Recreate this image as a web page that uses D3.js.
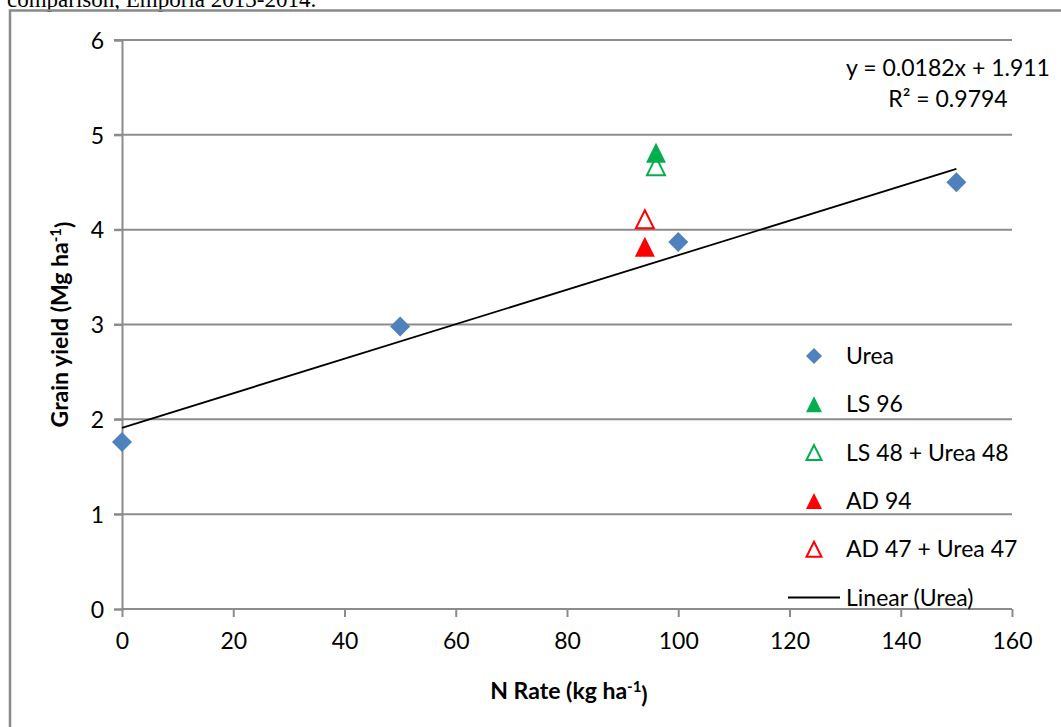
<!DOCTYPE html>
<html>
<head>
<meta charset="utf-8">
<script src="https://cdn.jsdelivr.net/npm/d3@7"></script>
<style>
  html, body { margin: 0; padding: 0; background: #fff; }
  svg { display: block; }
  text { font-family: Lato, "Open Sans", "Liberation Sans", sans-serif; fill: #000; }
</style>
</head>
<body>
<svg id="chart" width="1061" height="727"></svg>
<script>
// N rate (kg/ha) and grain yield (Mg/ha) for each nitrogen source
const ureaRates   = [0, 50, 100, 150];
const ureaYields  = [1.76, 2.98, 3.87, 4.50];
const ls96        = [[96, 4.81]];
const ls48Urea48  = [[96, 4.67]];
const ad94        = [[94, 3.82]];
const ad47Urea47  = [[94, 4.11]];

// Linear fit on the urea series
const fitSlope = 0.0182;
const fitIntercept = 1.911;
const fitRange = [0, 150];
const equationLines = ["y = 0.0182x + 1.911", "R² = 0.9794"];

const xTicks = [0, 20, 40, 60, 80, 100, 120, 140, 160];
const yTicks = [0, 1, 2, 3, 4, 5, 6];

const legendLabels = ["Urea", "LS 96", "LS 48 + Urea 48", "AD 94", "AD 47 + Urea 47", "Linear (Urea)"];

const BLUE = "#4f81bd", GREEN = "#00b050", RED = "#ff0000", GRID = "#8c8c8c";

const svg = d3.select("#chart");

// caption line running above the chart frame
svg.append("text")
  .attr("x", 7).attr("y", 7)
  .style("font-family", "'Liberation Serif', 'Times New Roman', serif")
  .style("font-size", "23px")
  .text("comparison, Emporia 2013-2014.");

// chart frame
svg.append("rect")
  .attr("x", 10).attr("y", 10.5)
  .attr("width", 1080).attr("height", 760)
  .attr("fill", "none").attr("stroke", "#8a8a8a").attr("stroke-width", 2.5);

const x = d3.scaleLinear().domain([0, 160]).range([122, 1012]);
const y = d3.scaleLinear().domain([0, 6]).range([609, 40]);

// horizontal gridlines
svg.append("g").selectAll("line").data(yTicks.filter(d => d > 0)).join("line")
  .attr("x1", x(0) - 8).attr("x2", x(160))
  .attr("y1", d => y(d)).attr("y2", d => y(d))
  .attr("stroke", GRID).attr("stroke-width", 2);

// y axis
const yAxis = svg.append("g").attr("transform", `translate(${x(0)},0)`)
  .call(d3.axisLeft(y).tickValues(yTicks).tickSize(8).tickPadding(10).tickFormat(d3.format("d")));
yAxis.select(".domain").attr("stroke", GRID).attr("stroke-width", 2);
yAxis.selectAll(".tick line").attr("stroke", GRID).attr("stroke-width", 2);
yAxis.selectAll(".tick text").style("font-size", "23px").style("font-family", "Lato, sans-serif").attr("dy", "0.36em");

// x axis
const xAxis = svg.append("g").attr("transform", `translate(0,${y(0)})`)
  .call(d3.axisBottom(x).tickValues(xTicks).tickSize(8).tickPadding(16).tickFormat(d3.format("d")));
xAxis.select(".domain").attr("stroke", GRID).attr("stroke-width", 2).attr("d", `M${x(0)},0H${x(160)}`);
xAxis.selectAll(".tick line").attr("stroke", GRID).attr("stroke-width", 2);
xAxis.selectAll(".tick text").style("font-size", "23px").style("font-family", "Lato, sans-serif");

// axis titles
const yTitle = svg.append("text")
  .attr("transform", `translate(68,${(y(0) + y(6)) / 2}) rotate(-90)`)
  .attr("text-anchor", "middle")
  .style("font-size", "23px").style("font-weight", "bold");
yTitle.append("tspan").text("Grain yield (Mg ha");
yTitle.append("tspan").attr("dy", "-0.45em").style("font-size", "15px").text("-1");
yTitle.append("tspan").attr("dy", "0.45em").text(")");

const xTitle = svg.append("text")
  .attr("x", (x(0) + x(160)) / 2 + 2).attr("y", 699)
  .attr("text-anchor", "middle")
  .style("font-size", "23px").style("font-weight", "bold");
xTitle.append("tspan").text("N Rate (kg ha");
xTitle.append("tspan").attr("dy", "-0.45em").style("font-size", "15px").text("-1");
xTitle.append("tspan").attr("dy", "0.45em").text(")");

// marker shapes: square-on-corner diamond and a triangle of equal width and height
const diamond = {
  draw(ctx, size) {
    const r = Math.sqrt(size) / 2;
    ctx.moveTo(0, -r); ctx.lineTo(r, 0); ctx.lineTo(0, r); ctx.lineTo(-r, 0); ctx.closePath();
  }
};
const triangle = {
  draw(ctx, size) {
    const r = Math.sqrt(size) / 2;
    ctx.moveTo(0, -r); ctx.lineTo(r, r); ctx.lineTo(-r, r); ctx.closePath();
  }
};

// linear trend line
const fit = d => fitSlope * d + fitIntercept;
svg.append("line")
  .attr("x1", x(fitRange[0])).attr("y1", y(fit(fitRange[0])))
  .attr("x2", x(fitRange[1])).attr("y2", y(fit(fitRange[1])))
  .attr("stroke", "#000").attr("stroke-width", 1.8);

// data points
const urea = ureaRates.map((r, i) => [r, ureaYields[i]]);
const series = [
  { data: urea,       shape: diamond,  size: 400, fill: BLUE,  stroke: "none" },
  { data: ls48Urea48, shape: triangle, size: 324, fill: "#fff", stroke: GREEN },
  { data: ls96,       shape: triangle, size: 400, fill: GREEN, stroke: "none" },
  { data: ad94,       shape: triangle, size: 400, fill: RED,   stroke: "none" },
  { data: ad47Urea47, shape: triangle, size: 324, fill: "#fff", stroke: RED }
];
series.forEach(s => {
  svg.append("g").selectAll("path").data(s.data).join("path")
    .attr("transform", d => `translate(${x(d[0])},${y(d[1])})`)
    .attr("d", d3.symbol().type(s.shape).size(s.size))
    .attr("fill", s.fill).attr("stroke", s.stroke).attr("stroke-width", 2);
});

// regression equation
const eq = svg.append("text").attr("text-anchor", "middle").style("font-size", "23px");
equationLines.forEach((t, i) => {
  eq.append("tspan").attr("x", 948).attr("y", 76 + i * 31).text(t);
});

// legend
const legendMarks = [
  { shape: diamond,  size: 256, fill: BLUE,  stroke: "none" },
  { shape: triangle, size: 256, fill: GREEN, stroke: "none" },
  { shape: triangle, size: 225, fill: "#fff", stroke: GREEN },
  { shape: triangle, size: 256, fill: RED,   stroke: "none" },
  { shape: triangle, size: 225, fill: "#fff", stroke: RED },
  null
];
const legend = svg.append("g");
const rowY = i => 356 + i * 48.3;
legendLabels.forEach((label, i) => {
  const m = legendMarks[i];
  if (m) {
    legend.append("path")
      .attr("transform", `translate(814,${rowY(i)})`)
      .attr("d", d3.symbol().type(m.shape).size(m.size))
      .attr("fill", m.fill).attr("stroke", m.stroke).attr("stroke-width", 2);
  } else {
    legend.append("line")
      .attr("x1", 788).attr("x2", 840).attr("y1", rowY(i)).attr("y2", rowY(i))
      .attr("stroke", "#000").attr("stroke-width", 1.8);
  }
  legend.append("text")
    .attr("x", 846).attr("y", rowY(i) + 8)
    .style("font-size", "23px")
    .text(label);
});
</script>
</body>
</html>
